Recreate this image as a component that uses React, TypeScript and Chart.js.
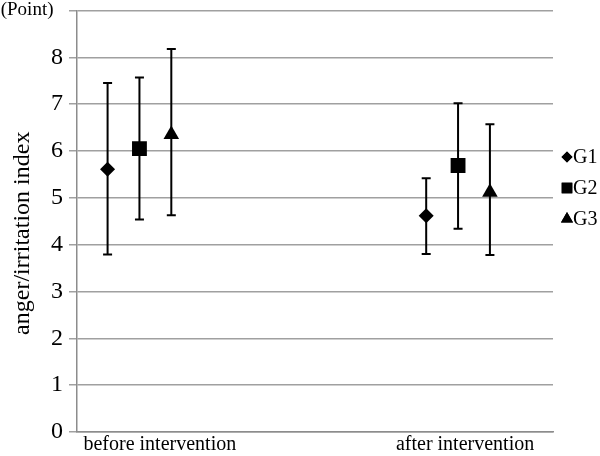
import React, { useEffect, useRef } from "react";
import { Chart, registerables } from "chart.js";
import { drawPoint } from "chart.js/helpers";

Chart.register(...registerables);

const categories = ["before intervention", "after intervention"];
const seriesNames = ["G1", "G2", "G3"];
const g1Mean = [5.61, 4.62];
const g1Low = [3.79, 3.8];
const g1High = [7.45, 5.42];
const g2Mean = [6.05, 5.69];
const g2Low = [4.54, 4.34];
const g2High = [7.57, 7.02];
const g3Mean = [6.35, 5.12];
const g3Low = [4.63, 3.78];
const g3High = [8.18, 6.57];
const yTicks = [0, 1, 2, 3, 4, 5, 6, 7, 8, 9];
const topTickLabel = "(Point)";

const FONT = "'Liberation Serif', 'Times New Roman', serif";
const pointStyles = ["rectRot", "rect", "triangle"];
const pointRadii = [7.5, 10.5, 9];
const legendRadii = [5.5, 7.5, 7];
const groupOffsets = [-0.1, 0, 0.1];
const labelPositions = [0.064, 1.022];

const means = [g1Mean, g2Mean, g3Mean];
const lows = [g1Low, g2Low, g3Low];
const highs = [g1High, g2High, g3High];

const errorBarPlugin = {
  id: "errorBars",
  afterDatasetsDraw(chart: any) {
    const ctx = chart.ctx;
    const xs = chart.scales.x;
    const ys = chart.scales.y;
    ctx.save();
    ctx.strokeStyle = "#000";
    ctx.lineWidth = 2;
    means.forEach((_, s) => {
      categories.forEach((__, c) => {
        const x = xs.getPixelForValue(c + groupOffsets[s]);
        const yl = ys.getPixelForValue(lows[s][c]);
        const yh = ys.getPixelForValue(highs[s][c]);
        ctx.beginPath();
        ctx.moveTo(x, yl);
        ctx.lineTo(x, yh);
        ctx.moveTo(x - 4.5, yl);
        ctx.lineTo(x + 4.5, yl);
        ctx.moveTo(x - 4.5, yh);
        ctx.lineTo(x + 4.5, yh);
        ctx.stroke();
      });
    });
    ctx.restore();
  },
  afterDraw(chart: any) {
    const ctx = chart.ctx;
    const area = chart.chartArea;
    ctx.save();
    ctx.fillStyle = "#000";
    ctx.strokeStyle = "#000";
    ctx.font = `20px ${FONT}`;
    ctx.textBaseline = "middle";
    ctx.textAlign = "left";
    const startY = 157;
    const gap = 31;
    seriesNames.forEach((name, i) => {
      const y = startY + i * gap;
      const mx = area.right + 14;
      drawPoint(ctx, { pointStyle: pointStyles[i], radius: legendRadii[i], borderWidth: 0, rotation: 0 } as any, mx, y);
      ctx.fillStyle = "#000";
      ctx.fill();
      ctx.fillText(name, mx + 6, y + 1);
    });
    ctx.restore();
  },
};

export default function App() {
  const ref = useRef<HTMLCanvasElement>(null);
  useEffect(() => {
    if (!ref.current) return;
    const datasets = seriesNames.map((name, s) => ({
      label: name,
      data: categories.map((_, c) => ({ x: c + groupOffsets[s], y: means[s][c] })),
      pointStyle: pointStyles[s],
      pointRadius: pointRadii[s],
      pointHoverRadius: pointRadii[s],
      backgroundColor: "#000",
      borderColor: "#000",
      borderWidth: 0,
      showLine: false,
    }));
    const chart = new Chart(ref.current, {
      type: "scatter",
      data: { datasets },
      plugins: [errorBarPlugin],
      options: {
        animation: false,
        responsive: false,
        maintainAspectRatio: false,
        layout: { padding: { left: 0, right: 47, top: 10, bottom: 0 } },
        plugins: { legend: { display: false }, tooltip: { enabled: false } },
        scales: {
          x: {
            type: "linear",
            min: -0.196,
            max: 1.298,
            afterBuildTicks: (scale: any) => {
              scale.ticks = labelPositions.map((v) => ({ value: v }));
            },
            afterFit: (scale: any) => {
              scale.height = 24;
              scale.paddingLeft = 0;
              scale.paddingRight = 0;
            },
            ticks: {
              autoSkip: false,
              maxRotation: 0,
              padding: 1,
              color: "#000",
              font: { family: FONT, size: 20 },
              callback: (_v: any, i: number) => categories[i],
            },
            grid: { display: false, drawTicks: false },
            border: { display: true, color: "#8c8c8c", width: 1.5 },
          },
          y: {
            min: 0,
            max: 9,
            afterBuildTicks: (scale: any) => {
              scale.ticks = yTicks.map((v) => ({ value: v }));
            },
            afterFit: (scale: any) => {
              scale.width = 77;
              scale.paddingTop = 0;
              scale.paddingBottom = 0;
            },
            title: {
              display: true,
              text: "anger/irritation index    ",
              color: "#000",
              font: { family: FONT, size: 24 },
              padding: { top: 8, bottom: 0 },
            },
            ticks: {
              color: "#000",
              padding: 6,
              font: (ctx: any) =>
                ctx.tick && ctx.tick.value === 9
                  ? { family: FONT, size: 19 }
                  : { family: FONT, size: 24 },
              callback: (v: any) => (v === 9 ? topTickLabel + "  " : String(v)),
            },
            grid: { color: "#a0a0a0", lineWidth: 1.5, tickLength: 8, drawTicks: true },
            border: { display: true, color: "#8c8c8c", width: 1.5 },
          },
        },
      },
    });
    return () => chart.destroy();
  }, []);
  return (
    <div style={{ position: "fixed", left: 0, top: 0, width: 600, height: 456, background: "#fff" }}>
      <canvas ref={ref} width={600} height={456} style={{ width: 600, height: 456 }} />
    </div>
  );
}
